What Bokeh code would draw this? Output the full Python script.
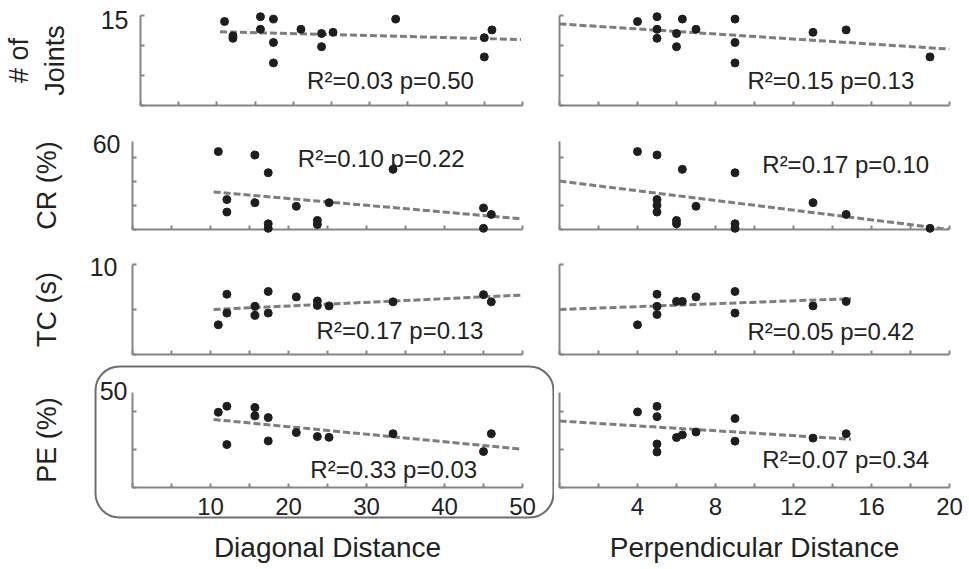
from bokeh.plotting import figure
from bokeh.layouts import column, row
from bokeh.models import Range1d, FixedTicker
from bokeh.core.properties import value
from bokeh.embed import file_html
from bokeh.resources import INLINE

# ---------------- data ----------------
diag_major_ticks = [10, 20, 30, 40, 50]
diag_minor_ticks = [0, 5, 15, 25, 35, 45]
perp_major_ticks = [4, 8, 12, 16, 20]
perp_minor_ticks = [0, 2, 6, 10, 14, 18]

row_labels = ["# of\nJoints", "CR (%)", "TC (s)", "PE (%)"]
row_top_labels = ["15", "60", "10", "50"]
row_ymax = [15, 60, 10, 50]
row_yticks = [[0, 5, 10, 15], [0, 16.4, 32.7, 49.1], [0, 5, 10], [0, 20, 40]]

x_titles = ["Diagonal Distance", "Perpendicular Distance"]

joints_diag_x = [11.0, 12.1, 12.1, 15.7, 15.7, 17.4, 17.4, 17.4, 21.0, 23.7, 23.7, 25.2, 33.4, 45.0, 46.0, 45.0]
joints_diag_y = [14.0, 11.2, 11.6, 14.8, 12.7, 14.4, 10.5, 7.1, 12.7, 12.0, 9.8, 12.2, 14.4, 11.3, 12.6, 8.1]
joints_perp_x = [4.0, 5.0, 5.0, 5.0, 6.0, 6.0, 6.3, 7.0, 9.0, 9.0, 9.0, 13.0, 14.7, 19.0]
joints_perp_y = [14.0, 14.8, 12.7, 11.2, 12.0, 9.8, 14.4, 12.7, 14.4, 10.5, 7.1, 12.2, 12.6, 8.1]

cr_diag_x = [11.0, 15.7, 17.4, 33.4, 12.1, 12.1, 15.7, 17.4, 17.4, 21.0, 23.7, 23.7, 25.2, 45.0, 46.0, 45.0]
cr_diag_y = [53.1, 50.8, 38.7, 41.0, 20.4, 11.9, 18.3, 3.9, 0.8, 15.8, 6.2, 3.4, 18.3, 14.7, 10.3, 0.8]
cr_perp_x = [4.0, 5.0, 6.3, 9.0, 5.0, 5.0, 5.0, 6.0, 6.0, 7.0, 9.0, 9.0, 13.0, 14.7, 19.0]
cr_perp_y = [53.1, 50.8, 41.0, 38.7, 20.4, 16.5, 11.9, 6.2, 3.9, 15.8, 3.9, 0.8, 18.3, 10.3, 0.8]

tc_diag_x = [11.0, 12.1, 12.1, 15.7, 15.7, 17.4, 17.4, 21.0, 23.7, 23.7, 25.2, 33.4, 45.0, 46.0]
tc_diag_y = [3.3, 6.7, 4.6, 5.35, 4.35, 7.0, 4.6, 6.4, 5.95, 5.45, 5.4, 5.85, 6.65, 5.85]
tc_perp_x = [4.0, 5.0, 5.0, 5.0, 6.0, 6.3, 7.0, 9.0, 9.0, 13.0, 14.7]
tc_perp_y = [3.3, 6.7, 5.35, 4.45, 5.9, 5.9, 6.4, 7.0, 4.6, 5.4, 5.9]

pe_diag_x = [11.0, 12.1, 12.1, 15.7, 15.7, 17.4, 17.4, 21.0, 23.7, 25.2, 33.4, 45.0, 46.0]
pe_diag_y = [39.6, 42.8, 22.6, 42.1, 37.7, 36.8, 24.5, 28.9, 26.8, 26.4, 28.3, 18.9, 28.3]
pe_perp_x = [4.0, 5.0, 5.0, 5.0, 5.0, 6.0, 6.3, 7.0, 9.0, 9.0, 13.0, 14.7]
pe_perp_y = [39.8, 42.7, 37.3, 22.9, 18.7, 26.3, 27.7, 29.2, 36.3, 24.4, 26.0, 28.3]

# regression lines (end points)
fit_joints_diag = ([10.4, 49.8], [12.3, 11.0])
fit_joints_perp = ([0.0, 20.0], [13.6, 9.4])
fit_cr_diag = ([10.4, 49.8], [25.6, 7.3])
fit_cr_perp = ([0.0, 20.0], [33.0, 0.0])
fit_tc_diag = ([10.4, 49.8], [5.0, 6.6])
fit_tc_perp = ([0.0, 14.95], [5.0, 6.2])
fit_pe_diag = ([10.4, 49.8], [35.8, 20.2])
fit_pe_perp = ([0.0, 14.95], [35.0, 25.4])

stats = [["R\u00b2=0.03 p=0.50", "R\u00b2=0.15 p=0.13"],
         ["R\u00b2=0.10 p=0.22", "R\u00b2=0.17 p=0.10"],
         ["R\u00b2=0.17 p=0.13", "R\u00b2=0.05 p=0.42"],
         ["R\u00b2=0.33 p=0.03", "R\u00b2=0.07 p=0.34"]]

# ---------------- layout / style ----------------
FONT = "Liberation Sans"
AXIS_COLOR = "#858585"
TEXT_COLOR = "#222222"
stat_pos = [[(21.8, 4.17), (9.64, 4.17)],
            [(21.2, 48.4), (10.4, 44.3)],
            [(23.6, 2.67), (9.64, 2.56)],
            [(22.8, 9.5), (10.4, 14.7)]]
top_label_pos = [(14.17, -12), (58.0, -12), (9.67, -15), (51.05, -5)]
# rounded highlight box around the PE / diagonal panel (in that panel's data units)
highlight_box = dict(left=-4.74, right=53.97, top=63.68, bottom=-15.79)

ROW_H = [128, 125, 107, 206]
B_TOP = [15, 13, 11, 32]
FRAME_H = [90, 88, 90, 95]

panels = [
    [(joints_diag_x, joints_diag_y, fit_joints_diag), (joints_perp_x, joints_perp_y, fit_joints_perp)],
    [(cr_diag_x, cr_diag_y, fit_cr_diag), (cr_perp_x, cr_perp_y, fit_cr_perp)],
    [(tc_diag_x, tc_diag_y, fit_tc_diag), (tc_perp_x, tc_perp_y, fit_tc_perp)],
    [(pe_diag_x, pe_diag_y, fit_pe_diag), (pe_perp_x, pe_perp_y, fit_pe_perp)],
]


def style_axis(ax):
    ax.axis_line_color = AXIS_COLOR
    ax.axis_line_width = 2
    ax.major_tick_line_color = AXIS_COLOR
    ax.major_tick_line_width = 2
    ax.minor_tick_line_color = AXIS_COLOR
    ax.minor_tick_line_width = 2
    ax.major_tick_in = 4
    ax.major_tick_out = 0
    ax.minor_tick_in = 4
    ax.minor_tick_out = 0
    ax.major_label_text_font = FONT
    ax.major_label_text_color = TEXT_COLOR
    ax.axis_label_text_font = FONT
    ax.axis_label_text_color = TEXT_COLOR
    ax.axis_label_text_font_style = "normal"


def hide_labels(ax, ticks):
    ax.major_label_overrides = {t: "" for t in ticks}
    ax.major_label_text_font_size = "1px"
    ax.major_label_standoff = 0


rows = []
for r in range(4):
    figs = []
    for c in range(2):
        left = c == 0
        xs, ys, (fx, fy) = panels[r][c]
        w = 554 if left else 411
        mbl = 132 if left else 5
        mbr = 32 if left else 16
        bottom = ROW_H[r] - B_TOP[r] - FRAME_H[r]
        p = figure(width=w, height=ROW_H[r],
                   x_range=Range1d(0, 50 if left else 20),
                   y_range=Range1d(0, row_ymax[r]),
                   output_backend="svg", toolbar_location=None,
                   min_border_left=mbl, min_border_right=mbr,
                   min_border_top=B_TOP[r], min_border_bottom=bottom)
        p.outline_line_color = None
        p.grid.visible = False
        p.background_fill_color = "white"
        p.border_fill_color = "white"

        xa = p.xaxis[0]
        ya = p.yaxis[0]
        style_axis(xa)
        style_axis(ya)
        major = diag_major_ticks if left else perp_major_ticks
        minor = diag_minor_ticks if left else perp_minor_ticks
        xa.ticker = FixedTicker(ticks=major, minor_ticks=minor)
        ya.ticker = FixedTicker(ticks=row_yticks[r], minor_ticks=[])
        hide_labels(ya, row_yticks[r])
        if r == 3:
            xa.major_label_text_font_size = "24px"
            xa.major_label_standoff = 10
            xa.axis_label = x_titles[c]
            xa.axis_label_text_font_size = "28px"
            xa.axis_label_standoff = 14
        else:
            hide_labels(xa, major)
        if left:
            ya.axis_label = row_labels[r]
            ya.axis_label_text_font_size = "27px"
            ya.axis_label_standoff = 71
            ty, tdx = top_label_pos[r]
            p.text(x=[0], y=[ty], text=[row_top_labels[r]], x_offset=tdx,
                   text_font=value(FONT), text_font_size="25px",
                   text_color=TEXT_COLOR, text_align="right",
                   text_baseline="middle", level="overlay")

        p.line(fx, fy, line_color="#7d7d7d", line_width=3, line_dash="7 3")
        p.scatter(xs, ys, size=8, color="#1e1e1e", level="overlay")
        sx, sy = stat_pos[r][c]
        p.text(x=[sx], y=[sy], text=[stats[r][c]], text_font=value(FONT),
               text_font_size="24px", text_color=TEXT_COLOR,
               text_baseline="middle", text_align="left", level="overlay")
        if r == 3 and left:
            p.quad(fill_color=None, line_color="#6e6e6e", line_width=2,
                   border_radius=24, level="overlay", **{k: [v] for k, v in highlight_box.items()})
        figs.append(p)
    rows.append(row(*figs))

layout = column(*rows)
open("out.html", "w").write(file_html(layout, INLINE))
